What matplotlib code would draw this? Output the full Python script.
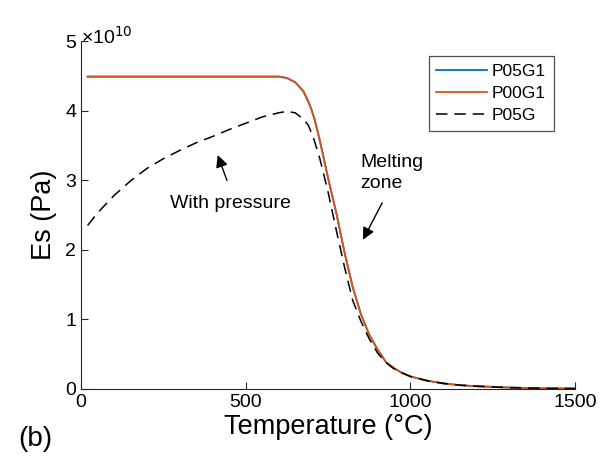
import numpy as np
import matplotlib
matplotlib.use('Agg')
from matplotlib import pyplot as plt

plt.rcParams['font.family'] = ['Liberation Sans', 'DejaVu Sans']

# temperaturas (C) e modulo Es (x 1e10 Pa)
temp_g1 = [20, 100, 200, 300, 400, 500, 550, 600, 625, 650, 675, 690, 700, 710,
           725, 750, 775, 800, 825, 850, 875, 900, 925, 950, 975, 1000, 1050,
           1100, 1150, 1200, 1300, 1400, 1500]
es_p05g1 = [4.49, 4.49, 4.49, 4.49, 4.49, 4.49, 4.49, 4.49, 4.47, 4.41, 4.28,
            4.13, 4.01, 3.86, 3.57, 3.03, 2.53, 1.96, 1.46, 1.07, 0.78, 0.57,
            0.39, 0.30, 0.23, 0.18, 0.12, 0.08, 0.055, 0.04, 0.02, 0.01, 0.006]
es_p00g1 = [4.49, 4.49, 4.49, 4.49, 4.49, 4.49, 4.49, 4.49, 4.47, 4.41, 4.28,
            4.13, 4.01, 3.86, 3.57, 3.03, 2.53, 1.96, 1.46, 1.07, 0.78, 0.57,
            0.39, 0.30, 0.23, 0.18, 0.12, 0.08, 0.055, 0.04, 0.02, 0.01, 0.006]

temp_g = [20, 50, 100, 150, 200, 250, 300, 350, 400, 450, 500, 550, 600, 625,
          650, 675, 690, 705, 725, 750, 775, 800, 825, 850, 875, 900, 925, 950,
          975, 1000, 1050, 1100, 1150, 1200, 1300, 1400, 1500]
es_p05g = [2.35, 2.53, 2.78, 2.99, 3.17, 3.31, 3.43, 3.54, 3.63, 3.73, 3.82,
           3.91, 3.97, 3.99, 3.97, 3.88, 3.79, 3.62, 3.31, 2.83, 2.28, 1.75,
           1.27, 0.97, 0.72, 0.52, 0.38, 0.29, 0.23, 0.18, 0.12, 0.08, 0.055,
           0.04, 0.02, 0.01, 0.006]

fig = plt.figure(figsize=(6.01, 4.57), dpi=100)
ax = fig.add_axes([0.1348, 0.1488, 0.8222, 0.7612])

ax.plot(temp_g1, es_p05g1, color='#0072BD', lw=1.3, label='P05G1')
ax.plot(temp_g1, es_p00g1, color='#D95319', lw=1.3, label='P00G1')
ax.plot(temp_g, es_p05g, color='black', lw=1.1, ls=(0, (7.5, 4.5)),
        label='P05G')

ax.set_xlim(0, 1500)
ax.set_ylim(0, 5)
ax.set_xticks([0, 500, 1000, 1500])
ax.set_yticks([0, 1, 2, 3, 4, 5])
ax.spines['top'].set_visible(False)
ax.spines['right'].set_visible(False)
for s in ['left', 'bottom']:
    ax.spines[s].set_color('#262626')
ax.tick_params(direction='in', length=5, labelsize=14, colors='#262626',
               labelcolor='black')
ax.set_xlabel('Temperature (\u00b0C)', fontsize=19.5, labelpad=2)
ax.set_ylabel('Es (Pa)', fontsize=19.5, labelpad=6)
ax.text(0, 5.06, '\u00d710$^{10}$', fontsize=14, ha='left', va='center')

leg = ax.legend(loc='upper right', bbox_to_anchor=(0.957, 0.957), fontsize=12.5,
                frameon=True, fancybox=False, edgecolor='#262626',
                handlelength=2.9, borderpad=0.45, labelspacing=0.4,
                handletextpad=0.3, borderaxespad=0)
leg.get_frame().set_linewidth(0.9)

ax.annotate('', xy=(412, 3.40), xytext=(446, 2.96),
            arrowprops=dict(arrowstyle='-|>', color='black', lw=1.0,
                            mutation_scale=18))
ax.text(455, 2.67, 'With pressure', fontsize=14, ha='center', va='center')

ax.annotate('', xy=(852, 2.11), xytext=(918, 2.71),
            arrowprops=dict(arrowstyle='-|>', color='black', lw=1.0,
                            mutation_scale=18))
ax.text(847, 3.10, 'Melting\nzone', fontsize=14, ha='left', va='center',
        linespacing=1.3)

fig.text(0.03, 0.04, '(b)', fontsize=20, ha='left', va='center')

fig.savefig('out.png', dpi=100)
